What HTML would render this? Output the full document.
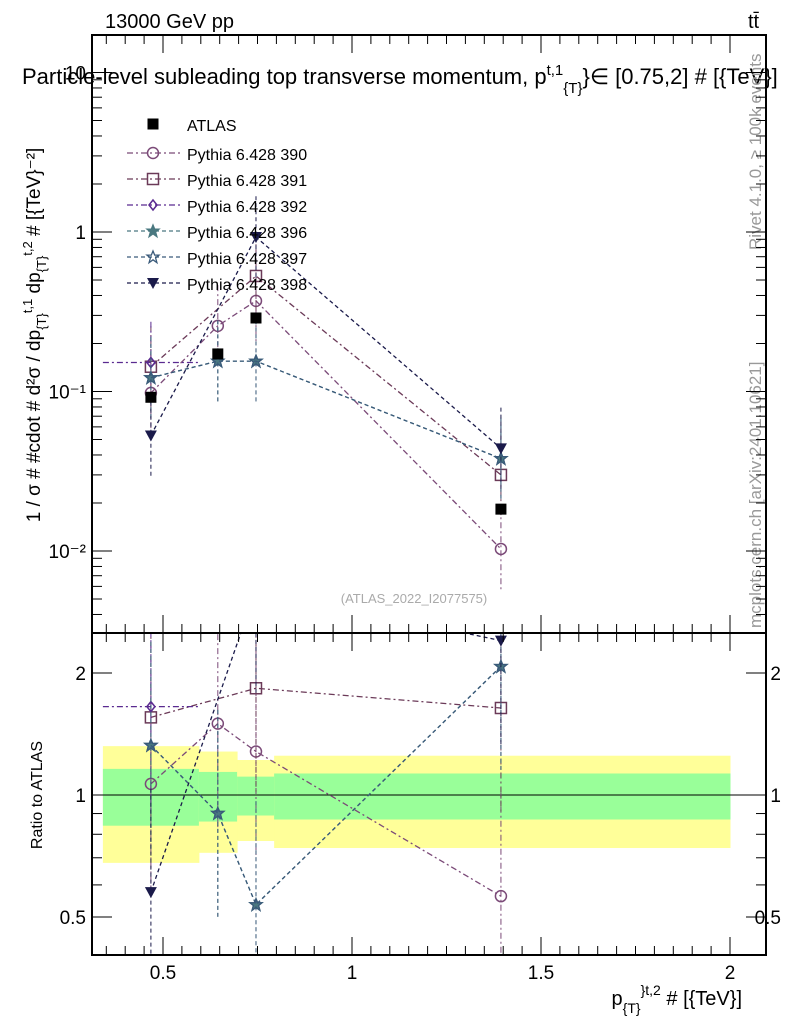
<!DOCTYPE html>
<html><head><meta charset="utf-8"><style>
body{margin:0;background:#fff;font-family:"Liberation Sans",sans-serif}
svg text{font-family:"Liberation Sans","DejaVu Sans",sans-serif}
</style></head><body>
<svg id="c" width="786" height="1024" xmlns="http://www.w3.org/2000/svg">
<text x="105" y="28" font-size="20">13000 GeV pp</text>
<text x="748" y="28" font-size="20">tt̄</text>
<text x="22" y="84" font-size="22">Particle-level subleading top transverse momentum, p<tspan font-size="15" dy="-9">t,1</tspan><tspan font-size="15" dy="18">{T}</tspan><tspan dy="-9">}∈ [0.75,2] # [{TeV}]</tspan></text>
<text transform="translate(40,335) rotate(-90)" text-anchor="middle" font-size="19">1 / σ # #cdot # d²σ / dp<tspan font-size="13" dy="6">{T}</tspan><tspan font-size="13" dy="-14">t,1</tspan><tspan dy="8"> dp</tspan><tspan font-size="13" dy="6">{T}</tspan><tspan font-size="13" dy="-14">t,2</tspan><tspan dy="8"> # [{TeV}⁻²]</tspan></text>
<text transform="translate(42,795) rotate(-90)" text-anchor="middle" font-size="16">Ratio to ATLAS</text>
<text x="742" y="1005" text-anchor="end" font-size="20">p<tspan font-size="14" dy="8">{T}</tspan><tspan font-size="14" dy="-18">}t,2</tspan><tspan dy="10"> # [{TeV}]</tspan></text>
<text transform="translate(761,250) rotate(-90)" font-size="17" fill="#999">Rivet 4.1.0, ≥ 100k events</text>
<text transform="translate(761,628) rotate(-90)" font-size="17" fill="#999">mcplots.cern.ch [arXiv:2401.10621]</text>
<text x="414" y="603" text-anchor="middle" font-size="13" fill="#aaa">(ATLAS_2022_I2077575)</text>
<g id="g"></g>
</svg>
<script>
const xCenters=[0.468,0.645,0.746,1.394];
const binEdges=[0.341,0.595,0.696,0.794,2.0];
const atlas=[0.092,0.172,0.289,0.0183];
const bandYlo=[0.68,0.72,0.77,0.74], bandYhi=[1.32,1.28,1.22,1.25];
const bandGlo=[0.84,0.86,0.89,0.87], bandGhi=[1.16,1.14,1.11,1.13];
const p390=[0.098,0.258,0.37,0.0103];
const p391=[0.143,null,0.53,0.030];
const p392=[0.152,null,null,null];
const p396=[0.122,0.155,0.155,0.038];
const p397=[0.122,0.155,0.155,0.038];
const p398=[0.053,null,0.93,0.044];
const xTicks=[0.5,1,1.5,2];
const NS="http://www.w3.org/2000/svg",G=document.getElementById('g');
const X=v=>163+(v-0.5)*378;
const Y=v=>232-Math.log10(v)*159.5;
const R=v=>795-Math.log2(v)*122;
function el(t,a,p){const e=document.createElementNS(NS,t);for(const k in a)e.setAttribute(k,a[k]);(p||G).appendChild(e);return e;}
const defs=el('defs',{});
let cp=el('clipPath',{id:'cm'},defs);el('rect',{x:92,y:35,width:674,height:598},cp);
cp=el('clipPath',{id:'cr'},defs);el('rect',{x:92,y:633,width:674,height:322},cp);
const gm=el('g',{'clip-path':'url(#cm)'});
const gr=el('g',{'clip-path':'url(#cr)'});
for(let i=0;i<4;i++){
 const b=el('rect',{x:X(binEdges[i]),y:R(bandYhi[i]),width:X(binEdges[i+1])-X(binEdges[i])+0.5,height:R(bandYlo[i])-R(bandYhi[i]),fill:'#ffff99'},gr);
 
 
 const c=el('rect',{x:X(binEdges[i]),y:R(bandGhi[i]),width:X(binEdges[i+1])-X(binEdges[i])+0.5,height:R(bandGlo[i])-R(bandGhi[i]),fill:'#99ff99'},gr);
 
 
}
el('line',{x1:92,x2:766,y1:R(1),y2:R(1),stroke:'#000','stroke-width':1},gr);
const series=[
 {d:p390,c:'#7b4a78',dash:'6,3,2,3',m:'circle'},
 {d:p391,c:'#6b3a58',dash:'6,3,2,3',m:'square'},
 {d:p392,c:'#5a2a90',dash:'6,3,2,3',m:'diamond'},
 {d:p396,c:'#4a7880',dash:'4,3',m:'star'},
 {d:p397,c:'#3a5a7a',dash:'4,3',m:'ostar'},
 {d:p398,c:'#1a1a4a',dash:'4,3',m:'tri'}];
const names=['390','391','392','396','397','398'];
function marker(g,m,x,y,c){
 const s='M0,-6L1.7,-1.9L6,-1.9L2.6,0.9L3.9,5.6L0,2.8L-3.9,5.6L-2.6,0.9L-6,-1.9L-1.7,-1.9Z';
 if(m==='circle')el('circle',{cx:x,cy:y,r:5.5,fill:'none',stroke:c,'stroke-width':1.5},g);
 else if(m==='square')el('rect',{x:x-5.5,y:y-5.5,width:11,height:11,fill:'none',stroke:c,'stroke-width':1.5},g);
 else if(m==='diamond')el('path',{d:`M${x},${y-5}L${x+4},${y}L${x},${y+5}L${x-4},${y}Z`,fill:'none',stroke:c,'stroke-width':1.5},g);
 else if(m==='tri')el('path',{d:`M${x-6},${y-5}L${x+6},${y-5}L${x},${y+6}Z`,fill:c},g);
 else if(m==='atlas')el('rect',{x:x-5.5,y:y-5.5,width:11,height:11,fill:'#000'},g);
 else el('path',{d:s,transform:`translate(${x},${y})`,fill:m==='star'?c:'none',stroke:c,'stroke-width':1.3},g);
}
series.forEach((s,k)=>{
 const g1=el('g',{},gm);
 const g2=el('g',{},gr);
 let pm=[],pr=[];
 s.d.forEach((v,i)=>{if(v==null)return;pm.push(X(xCenters[i])+','+Y(v));pr.push(X(xCenters[i])+','+R(v/atlas[i]));});
 if(k===2){pm.unshift(X(binEdges[0])+','+Y(s.d[0]));pm.push(X(binEdges[1])+','+Y(s.d[0]));pr.unshift(X(binEdges[0])+','+R(s.d[0]/atlas[0]));pr.push(X(binEdges[1])+','+R(s.d[0]/atlas[0]));}
 el('polyline',{points:pm.join(' '),fill:'none',stroke:s.c,'stroke-width':1.3,'stroke-dasharray':s.dash},g1);
 el('polyline',{points:pr.join(' '),fill:'none',stroke:s.c,'stroke-width':1.3,'stroke-dasharray':s.dash},g2);
 s.d.forEach((v,i)=>{if(v==null)return;const x=X(xCenters[i]);
  el('line',{x1:x,x2:x,y1:Y(v*1.8),y2:Y(v/1.8),stroke:s.c,'stroke-width':1,'stroke-dasharray':s.dash},g1);
  el('line',{x1:x,x2:x,y1:R(v/atlas[i]*1.8),y2:R(v/atlas[i]/1.8),stroke:s.c,'stroke-width':1,'stroke-dasharray':s.dash},g2);
  marker(g1,s.m,x,Y(v),s.c);marker(g2,s.m,x,R(v/atlas[i]),s.c);});
});
const ga=el('g',{},gm);
atlas.forEach((v,i)=>marker(ga,'atlas',X(xCenters[i]),Y(v),'#000'));
const lg=el('g',{});
marker(lg,'atlas',153,124,'#000');
let t=el('text',{x:187,y:131,'font-size':16},lg);t.textContent='ATLAS';
series.forEach((s,k)=>{const y=153+k*26;
 el('line',{x1:127,x2:180,y1:y,y2:y,stroke:s.c,'stroke-width':1.3,'stroke-dasharray':s.dash},lg);
 marker(lg,s.m,153,y,s.c);
 const tt=el('text',{x:187,y:y+7,'font-size':16},lg);tt.textContent='Pythia 6.428 '+names[k];});
el('rect',{x:92,y:35,width:674,height:598,fill:'none',stroke:'#000','stroke-width':2});
el('rect',{x:92,y:633,width:674,height:322,fill:'none',stroke:'#000','stroke-width':2});
for(let e=-3;e<=1;e++)for(let m=1;m<10;m++){const v=m*Math.pow(10,e),y=Y(v);if(y<35||y>633)continue;const L=m===1?20:10;
 el('line',{x1:92,x2:92+L,y1:y,y2:y,stroke:'#000'});el('line',{x1:766,x2:766-L,y1:y,y2:y,stroke:'#000'});}
[[1,'1'],[0.1,'10⁻¹'],[0.01,'10⁻²'],[10,'10']].forEach(([v,s])=>{const tx=el('text',{x:86,y:Y(v)+7,'text-anchor':'end','font-size':19});tx.textContent=s;});
[0.5,0.6,0.7,0.8,0.9,1,2].forEach(v=>{const y=R(v),L=(v===1||v===2||v===0.5)?20:10;el('line',{x1:92,x2:92+L,y1:y,y2:y,stroke:'#000'});el('line',{x1:766,x2:766-L,y1:y,y2:y,stroke:'#000'});});
[[0.5,'0.5'],[1,'1'],[2,'2']].forEach(([v,s])=>{let a=el('text',{x:86,y:R(v)+7,'text-anchor':'end','font-size':19});a.textContent=s;let b=el('text',{x:781,y:R(v)+7,'text-anchor':'end','font-size':19});b.textContent=s;});
for(let v=0.35;v<=2.05;v+=0.05){const x=X(v),big=Math.abs(v*2-Math.round(v*2))<1e-6,L=big?18:9;
 [35,633].forEach(y0=>el('line',{x1:x,x2:x,y1:y0,y2:y0+L,stroke:'#000'}));
 [633,955].forEach(y0=>el('line',{x1:x,x2:x,y1:y0,y2:y0-L,stroke:'#000'}));}
xTicks.forEach(v=>{const tx=el('text',{x:X(v),y:979,'text-anchor':'middle','font-size':19});tx.textContent=String(v);});
</script>
</body></html>
